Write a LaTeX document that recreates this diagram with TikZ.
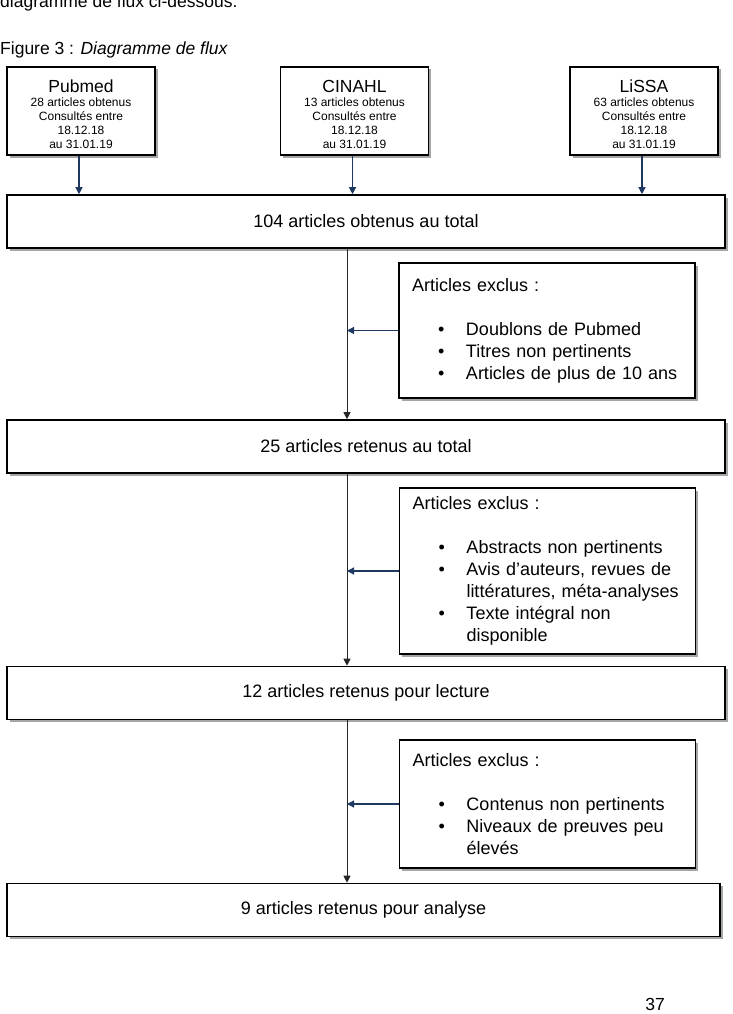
\documentclass[tikz,border=0pt]{standalone}
\usepackage{fontspec}
\setmainfont{Liberation Sans}
\usetikzlibrary{arrows.meta,shadows}
\definecolor{flowblue}{RGB}{31,56,96}
\begin{document}
\begin{tikzpicture}[x=1pt, y=-1pt,
    shadowed/.style={fill=white, draw=black, line width=1.6pt,
        drop shadow={shadow xshift=2.5pt, shadow yshift=-2.5pt, fill=black, opacity=.35}},
    srcbox/.style={shadowed, minimum width=148pt, minimum height=88pt, inner sep=0pt,
        align=center, font=\fontsize{12}{14}\selectfont},
    stagebox/.style={shadowed, minimum width=718pt, minimum height=53pt, inner sep=0pt,
        font=\fontsize{18}{22}\selectfont},
    exclbox/.style={shadowed, text width=270pt, inner xsep=13pt, inner ysep=0pt,
        align=left, font=\fontsize{18}{22}\selectfont},
    pagetext/.style={inner sep=0pt, font=\fontsize{17.5}{21}\selectfont},
    bluearrow/.style={draw=flowblue, line width=1.2pt, -{Triangle[length=7pt, width=7pt]}},
    spinearrow/.style={draw=black!85, line width=1pt, -{Triangle[length=7pt, width=7pt]}}
  ]
  \useasboundingbox (0,0) rectangle (733,1014);
  % page text
  \node[pagetext, anchor=base west] (intro) at (0,8) {diagramme de flux ci-dessous.};
  \node[pagetext, anchor=base west] (caption) at (0,55) {Figure 3 : \textit{Diagramme de flux}};
  \node[pagetext, anchor=base] (pagenum) at (655,1010) {37};
  % stages
  \node[stagebox] (total) at (366,221.5) {104 articles obtenus au total};
  \node[stagebox] (retenus) at (366,446.5) {25 articles retenus au total};
  \node[stagebox] (lecture) at (366,693) {12 articles retenus pour lecture};
  \node[stagebox, minimum width=713pt] (analyse) at (363.5,910) {9 articles retenus pour analyse};
  % sources
  \foreach \n/\src/\cnt/\x in {pubmed/Pubmed/28/81, cinahl/CINAHL/13/354.5, lissa/LiSSA/63/644} {
      \node[srcbox] (\n) at (\x,111) {\rule{0pt}{20pt}{\fontsize{17.5}{19}\selectfont \src}\\[0pt]
          \cnt{} articles obtenus\\ Consultés entre\\ 18.12.18\\ au 31.01.19};
      \draw[bluearrow] (\n.south -| {\x-2,0}) -- (\n.south |- total.north -| {\x-2,0});
  }
  % exclusions
  \node[exclbox, minimum height=135pt] (exclA) at (547,330.5) {Articles exclus :\\[22pt]
      \makebox[54pt][l]{\hspace*{26pt}\textbullet}Doublons de Pubmed\\
      \makebox[54pt][l]{\hspace*{26pt}\textbullet}Titres non pertinents\\
      \makebox[54pt][l]{\hspace*{26pt}\textbullet}Articles de plus de 10 ans};
  \node[exclbox, minimum height=166pt] (exclB) at (547.5,571) {Articles exclus :\\[22pt]
      \makebox[54pt][l]{\hspace*{26pt}\textbullet}Abstracts non pertinents\\
      \makebox[54pt][l]{\hspace*{26pt}\textbullet}Avis d’auteurs, revues de\\
      \hspace*{54pt}littératures, méta-analyses\\
      \makebox[54pt][l]{\hspace*{26pt}\textbullet}Texte intégral non\\
      \hspace*{54pt}disponible};
  \node[exclbox, minimum height=128pt] (exclC) at (547.5,804) {Articles exclus :\\[22pt]
      \makebox[54pt][l]{\hspace*{26pt}\textbullet}Contenus non pertinents\\
      \makebox[54pt][l]{\hspace*{26pt}\textbullet}Niveaux de preuves peu\\
      \hspace*{54pt}élevés};
  % main line
  \coordinate (spine) at (347,0);
  \draw[spinearrow] (total.south -| spine) -- (retenus.north -| spine);
  \draw[spinearrow] (retenus.south -| spine) -- (lecture.north -| spine);
  \draw[spinearrow] (lecture.south -| spine) -- (analyse.north -| spine);
  \draw[bluearrow] (exclA.west) -- (exclA.west -| spine);
  \draw[bluearrow] (exclB.west) -- (exclB.west -| spine);
  \draw[bluearrow] (exclC.west) -- (exclC.west -| spine);
\end{tikzpicture}
\end{document}
